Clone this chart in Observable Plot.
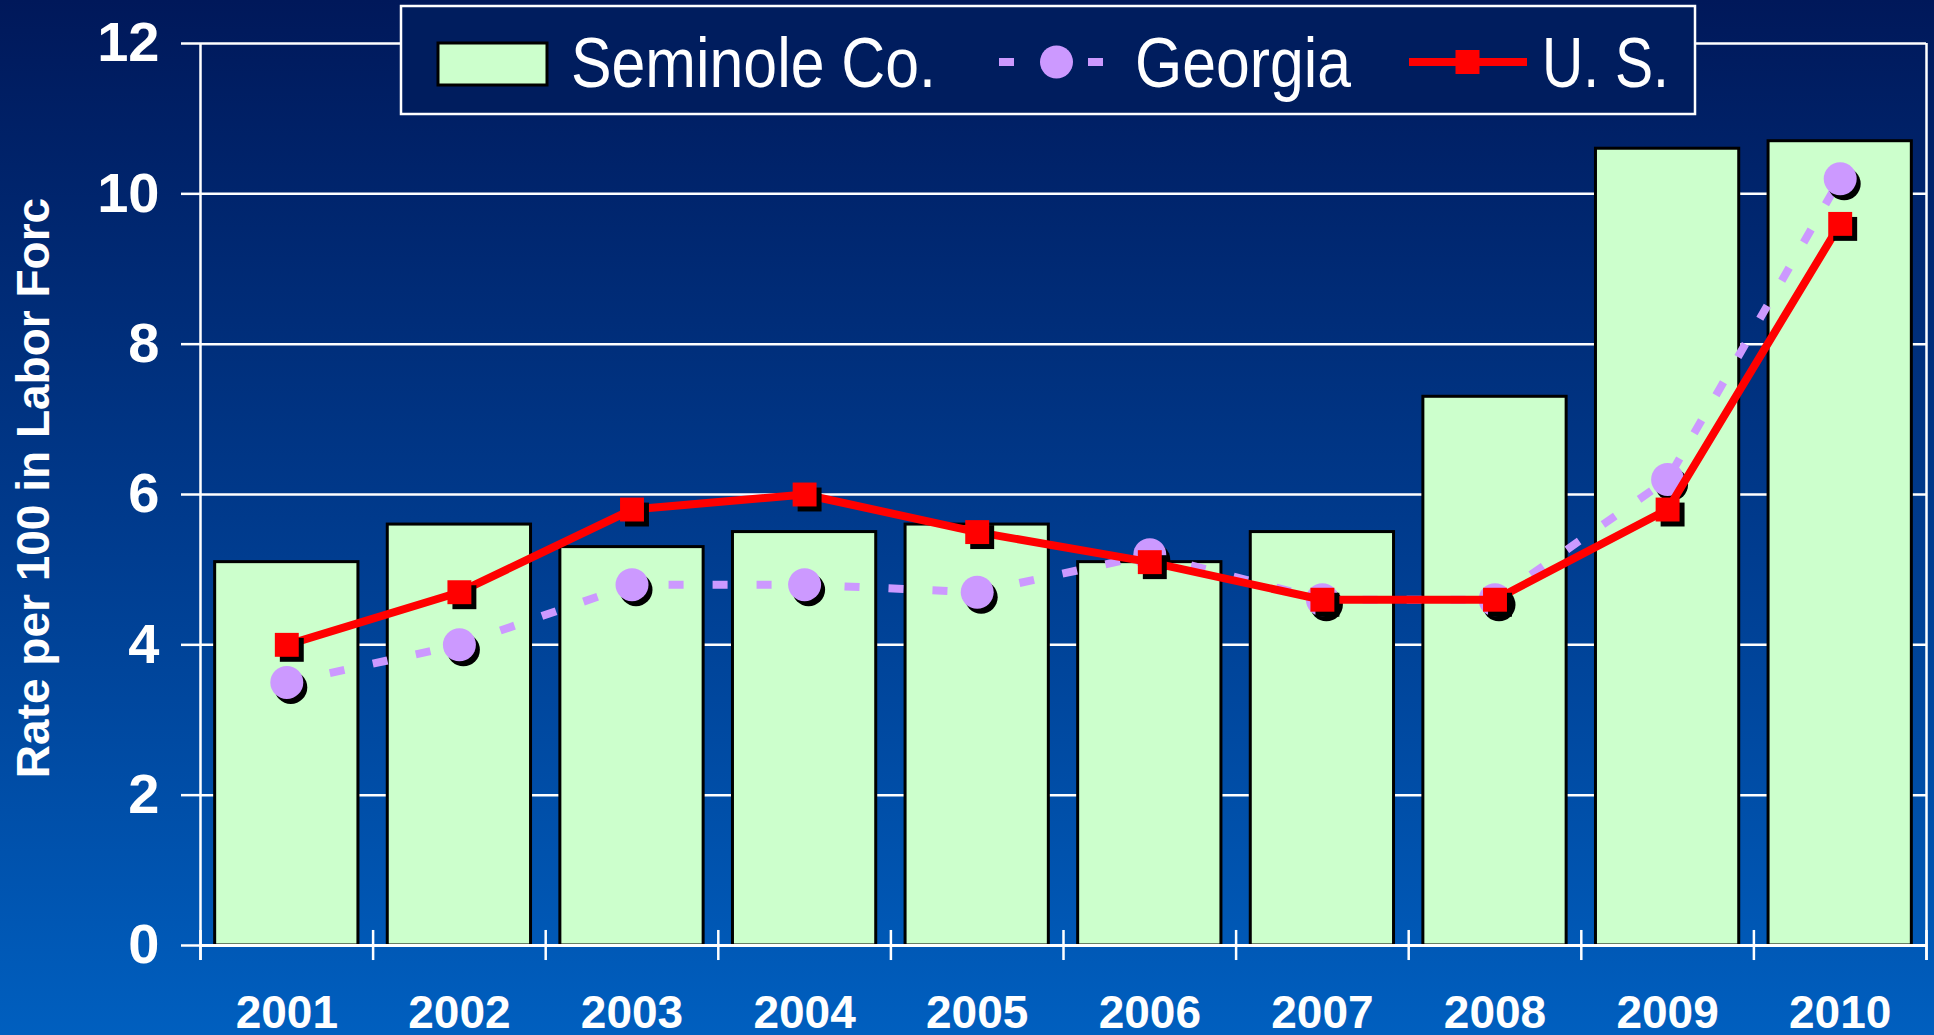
<!DOCTYPE html>
<html>
<head>
<meta charset="utf-8">
<script src="https://cdn.jsdelivr.net/npm/d3@7"></script>
<script src="https://cdn.jsdelivr.net/npm/@observablehq/plot@0.6"></script>
<style>
  html, body { margin: 0; padding: 0; }
  body {
    width: 1934px; height: 1035px; overflow: hidden; position: relative;
    background: linear-gradient(to bottom, #00185a 0%, #003a8c 50%, #005fbf 100%);
    font-family: "Liberation Sans", Arial, sans-serif;
  }
  #chart { position: absolute; left: 0; top: 0; }
  #overlay { position: absolute; left: 0; top: 0; pointer-events: none; }
</style>
</head>
<body>
<div id="chart"></div>
<svg id="overlay" width="1934" height="1035"></svg>
<script>
// ---- data ----
const years    = [2001, 2002, 2003, 2004, 2005, 2006, 2007, 2008, 2009, 2010];
const seminole = [5.1, 5.6, 5.3, 5.5, 5.6, 5.1, 5.5, 7.3, 10.6, 10.7];
const georgia  = [3.5, 4.0, 4.8, 4.8, 4.7, 5.2, 4.6, 4.6, 6.2, 10.2];
const us       = [4.0, 4.7, 5.8, 6.0, 5.5, 5.1, 4.6, 4.6, 5.8, 9.6];
const yTicks   = [0, 2, 4, 6, 8, 10, 12];
const seriesNames = ["Seminole Co.", "Georgia", "U. S."];
const yTitle = "Rate per 100 in Labor Forc";

const rows = years.map((y, i) => ({year: y, seminole: seminole[i], georgia: georgia[i], us: us[i]}));
const halfBar = 0.415;
const edges = [years[0] - 0.5, ...years.map(y => y + 0.5)];
const outerEdges = [edges[0], edges[edges.length - 1]];
const TICK = 0.2;

const GREEN = "#ccffcc", LAV = "#cc99ff", RED = "#ff0000";

const chart = Plot.plot({
  width: 1934,
  height: 1035,
  marginLeft: 200,
  marginRight: 8,
  marginTop: 43,
  marginBottom: 90,
  style: {background: "transparent", color: "white", fontFamily: "'Liberation Sans', Arial, sans-serif", fontWeight: "bold", overflow: "visible"},
  x: {type: "linear", domain: [edges[0], edges[edges.length - 1]]},
  y: {domain: [0, 12]},
  marks: [
    Plot.gridY(yTicks.slice(1), {stroke: "white", strokeOpacity: 1, strokeWidth: 2.5}),
    Plot.axisY({ticks: yTicks, tickSize: 19, tickPadding: 22, fontSize: 56, fontWeight: "bold", stroke: "white", strokeWidth: 2.5, strokeOpacity: 1, label: null}),
    Plot.axisX({ticks: years, tickSize: 0, tickPadding: 50, fontSize: 46, fontWeight: "bold", tickFormat: d => String(d), label: null}),
    Plot.rectY(rows, {x1: d => d.year - halfBar, x2: d => d.year + halfBar, y: "seminole", fill: GREEN, stroke: "black", strokeWidth: 3}),
    Plot.ruleY([0], {stroke: "white", strokeWidth: 3}),
    Plot.ruleX(edges, {y1: -TICK, y2: TICK, stroke: "white", strokeWidth: 2.5}),
    Plot.ruleX(outerEdges, {y1: -TICK, y2: 12, stroke: "white", strokeWidth: 2.5}),
    Plot.line(rows, {x: "year", y: "georgia", stroke: LAV, strokeWidth: 8, strokeDasharray: "15,29", strokeLinecap: "butt"}),
    Plot.dot(rows, {x: "year", y: "georgia", r: 16.5, fill: "black", dx: 4, dy: 5}),
    Plot.dot(rows, {x: "year", y: "georgia", r: 16.5, fill: LAV}),
    Plot.line(rows, {x: "year", y: "us", stroke: RED, strokeWidth: 8}),
    Plot.dot(rows, {x: "year", y: "us", symbol: "square", r: 13.5, fill: "black", dx: 5, dy: 5}),
    Plot.dot(rows, {x: "year", y: "us", symbol: "square", r: 13.5, fill: RED})
  ]
});
document.getElementById("chart").appendChild(chart);

// ---- overlay: y title and legend ----
const ov = d3.select("#overlay");
ov.append("text")
  .attr("transform", "translate(33,488) rotate(-90)")
  .attr("text-anchor", "middle")
  .attr("dominant-baseline", "central")
  .attr("fill", "white")
  .attr("font-family", "'Liberation Sans', Arial, sans-serif")
  .attr("font-weight", "bold")
  .attr("font-size", 46)
  .text(yTitle);

const lg = ov.append("g").attr("transform", "translate(401,6)");
lg.append("rect").attr("x", 0).attr("y", 0).attr("width", 1294).attr("height", 108)
  .attr("fill", "#001d5e").attr("stroke", "white").attr("stroke-width", 2.5);
const tx = (x, len, s) => lg.append("text").attr("x", x).attr("y", 81)
  .attr("fill", "white").attr("font-family", "'Liberation Sans', Arial, sans-serif")
  .attr("font-size", 70).attr("textLength", len).attr("lengthAdjust", "spacingAndGlyphs").text(s);
// Seminole
lg.append("rect").attr("x", 37).attr("y", 37).attr("width", 109).attr("height", 42)
  .attr("fill", GREEN).attr("stroke", "black").attr("stroke-width", 3);
tx(170, 365, seriesNames[0]);
// Georgia
lg.append("line").attr("x1", 598).attr("x2", 613).attr("y1", 56).attr("y2", 56).attr("stroke", LAV).attr("stroke-width", 8);
lg.append("line").attr("x1", 687).attr("x2", 702).attr("y1", 56).attr("y2", 56).attr("stroke", LAV).attr("stroke-width", 8);
lg.append("circle").attr("cx", 655.5).attr("cy", 56).attr("r", 16.5).attr("fill", LAV);
tx(734, 216, seriesNames[1]);
// US
lg.append("line").attr("x1", 1008).attr("x2", 1126).attr("y1", 56).attr("y2", 56).attr("stroke", RED).attr("stroke-width", 8);
lg.append("rect").attr("x", 1054.5).attr("y", 44).attr("width", 24).attr("height", 24).attr("fill", RED);
tx(1141, 127, seriesNames[2]);
</script>
</body>
</html>
